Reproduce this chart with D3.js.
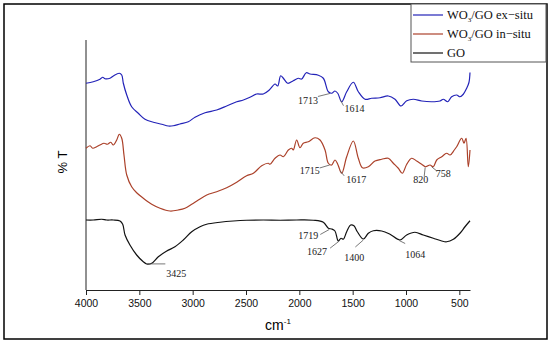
<!DOCTYPE html>
<html>
<head>
<meta charset="utf-8">
<script src="https://cdn.jsdelivr.net/npm/d3@7"></script>
<style>
  body { margin: 0; background: #fff; }
</style>
</head>
<body>
<svg width="550" height="343" id="mainsvg"></svg>
<script>
// FTIR spectra: wavenumber (cm-1) and relative %T (offset, no scale shown)
const WN_EX = [4000,3932,3869,3843,3822,3775,3744,3688,3665,3650,3618,3572,3510,3447,3369,3290,3228,3182,3119,3041,2978,2884,2775,2681,2587,2525,2463,2400,2338,2282,2228,2203,2175,2150,2109,2057,2010,1978,1935,1900,1822,1775,1728,1697,1666,1640,1603,1556,1494,1447,1384,1322,1244,1166,1103,1047,993,932,853,759,681,650,609,572,525,494,463,431,410,400];
const T_EX  = [82.7,83.3,84.3,85.1,84.5,84.7,85.6,86.7,86,82.7,78,73.3,70.7,68.3,67.1,66.3,65.6,65.7,66.4,67.3,69.1,70.9,72,73.6,75.3,76,77.1,78.4,78.4,80,82.4,81.6,85.7,84.7,82.7,83.7,84.7,84.4,86.9,86.4,85.9,84.7,79.3,78.7,79.6,78.7,75.3,79.3,83.1,79.3,76.3,76.7,76.9,77.6,76.3,73.6,75.7,76.3,75.6,75.3,75.6,76.3,75.3,77.3,78,77.3,78.3,80.7,83,87];

const WN_IN = [4000,3962,3937,3900,3869,3831,3800,3768,3744,3712,3688,3665,3644,3618,3572,3525,3463,3384,3306,3212,3135,3072,3009,2947,2868,2775,2681,2587,2494,2431,2353,2291,2275,2228,2181,2150,2103,2072,2057,2025,1994,1963,1916,1853,1806,1759,1728,1697,1666,1640,1603,1556,1494,1447,1409,1353,1291,1228,1166,1119,1072,1035,993,947,900,853,815,775,744,712,665,619,587,547,525,478,456,437,416,400];
const T_IN  = [56.7,57.7,56.7,57.3,58,58.7,58.3,59.1,58,60,62.3,60.7,54,46,41.3,38.9,36.7,34.3,32.7,31.6,32,32.7,34.3,36,38,39.3,40.9,43.1,45.7,46.7,49.7,50.7,50.3,52.7,54,53.3,56,56.7,56,60,56.9,58.7,59.3,60.9,60,56,50.7,50,52,50.3,46.7,53.3,59.6,52.7,48.9,49.3,51.6,52.3,52.7,50.7,48.7,46.7,50.3,52.7,51.6,50.3,49.3,50,49.3,52,53.3,54.7,54,56,57.3,60.7,58.7,60.7,49.3,56];

const WN_GO = [4000,3932,3853,3806,3744,3681,3656,3634,3588,3525,3463,3431,3384,3322,3243,3166,3088,3009,2931,2869,2744,2619,2494,2338,2181,2025,1869,1775,1728,1697,1666,1635,1609,1588,1556,1519,1488,1456,1400,1353,1306,1228,1150,1056,994,916,838,744,665,619,556,494,447,400];
const T_GO  = [28,28,28.3,28,28,27.6,26.3,22,18,14,11.3,10.4,10.7,13.3,15.6,17.3,20,23.3,25.3,26.3,27.1,27.6,27.9,28,27.9,28,27.9,27.1,24.7,24.4,23.6,19.6,20.7,20.3,23.3,26,25.7,23.3,20.4,22.7,23.7,23.6,22.3,20,22,23.1,22,20.7,19.6,19.3,20.3,22.7,25.3,27.7];

const SERIES_NAMES = ['ex-situ', 'in-situ', 'GO'];
const X_TICKS = [4000, 3500, 3000, 2500, 2000, 1500, 1000, 500];

// peak labels: text, wavenumber, series index
const PEAK_TEXT = ['1713','1614','1715','1617','820','758','1719','1627','1400','1064','3425'];
const PEAK_WN   = [1713, 1614, 1715, 1617, 820, 758, 1719, 1627, 1400, 1064, 3425];
const PEAK_SER  = [0, 0, 1, 1, 1, 1, 2, 2, 2, 2, 2];

// layout of leader lines / label text relative to the peak point
const LABEL_LAYOUT = [
  {l: [-12, 4], t: [-12, 11.5], a: 'end'},
  {l: [3, 6.5], t: [4, 13], a: 'start'},
  {l: [-10, 4], t: [-10, 10], a: 'end'},
  {l: [4, 6], t: [6, 13.5], a: 'start'},
  {l: [-1, 10], t: [-4.5, 17], a: 'middle'},
  {l: [5, 5], t: [4, 11], a: 'start'},
  {l: [-9, 6], t: [-11, 11], a: 'end'},
  {l: [-9, 8], t: [-12, 15], a: 'end'},
  {l: [-8, 8], t: [-9, 22], a: 'middle'},
  {l: [6, 4], t: [6, 18], a: 'start'},
  {l: [18, 0], t: [19, 13], a: 'start'}
];

const svg = d3.select('svg');
const colors = ['#2323b8', '#ab412a', '#111111'];
const data = [[WN_EX, T_EX], [WN_IN, T_IN], [WN_GO, T_GO]]
  .map(([w, t]) => w.map((d, i) => ({wn: d, t: t[i]})));

const margin = {top: 40, left: 86, right: 80, bottom: 53};
const width = 550, height = 343;

const xScale = d3.scaleLinear().domain([4000, 400]).range([margin.left, width - margin.right]);
const yScale = d3.scaleLinear().domain([0, 100]).range([height - margin.bottom, margin.top]);

// outer frame
svg.append('rect').attr('x', 4).attr('y', 4).attr('width', 543).attr('height', 335)
  .attr('fill', 'none').attr('stroke', '#000').attr('stroke-width', 1.5);

// axes
const xAxis = d3.axisBottom(xScale).tickValues(X_TICKS).tickSize(5).tickSizeOuter(0).tickFormat(d3.format('d'));
const gx = svg.append('g').attr('transform', `translate(0, ${yScale(0)})`).call(xAxis);
gx.selectAll('text').attr('font-family', 'Liberation Sans, Arial, sans-serif').attr('font-size', 10.5).attr('fill', '#111').attr('dy', '0.9em');
gx.selectAll('line, path').attr('stroke', '#222');
svg.append('line').attr('x1', xScale(4000)).attr('x2', xScale(4000))
  .attr('y1', yScale(100)).attr('y2', yScale(0)).attr('stroke', '#222');

svg.append('text').attr('x', (xScale(4000) + xScale(400)) / 2).attr('y', 330)
  .attr('text-anchor', 'middle').attr('font-family', 'Liberation Sans, Arial, sans-serif')
  .attr('font-size', 14).text('cm')
  .append('tspan').attr('font-size', 8).attr('dy', -6).text('-1');

svg.append('text').attr('transform', 'translate(67, 162) rotate(-90)')
  .attr('text-anchor', 'middle').attr('font-family', 'Liberation Sans, Arial, sans-serif')
  .attr('font-size', 13).text('% T');

// spectra
const line = d3.line().x(d => xScale(d.wn)).y(d => yScale(d.t)).curve(d3.curveCatmullRom.alpha(0.5));
svg.selectAll('.spec').data(data).join('path')
  .attr('class', 'spec').attr('d', line)
  .attr('fill', 'none').attr('stroke', (d, i) => colors[i]).attr('stroke-width', 1.2);

// peak labels
function valueAt(series, wn) {
  for (let i = 0; i < series.length - 1; i++) {
    const a = series[i], b = series[i + 1];
    if (wn <= a.wn && wn >= b.wn) return a.t + (b.t - a.t) * (a.wn - wn) / (a.wn - b.wn);
  }
  return series[series.length - 1].t;
}
const gl = svg.append('g');
PEAK_TEXT.forEach((txt, i) => {
  const px = xScale(PEAK_WN[i]);
  const py = yScale(valueAt(data[PEAK_SER[i]], PEAK_WN[i]));
  const lay = LABEL_LAYOUT[i];
  gl.append('line').attr('x1', px).attr('y1', py + (i === 10 ? 0 : 1))
    .attr('x2', px + lay.l[0]).attr('y2', py + lay.l[1])
    .attr('stroke', '#555').attr('stroke-width', 0.8);
  gl.append('text').attr('x', px + lay.t[0]).attr('y', py + lay.t[1])
    .attr('text-anchor', lay.a).attr('font-family', 'Liberation Serif, Times New Roman, serif')
    .attr('font-size', 10).attr('fill', '#222').text(txt);
});

// legend
const lg = svg.append('g');
lg.append('rect').attr('x', 411).attr('y', 4).attr('width', 135).attr('height', 58)
  .attr('fill', '#fff').attr('stroke', '#555').attr('stroke-width', 1);
const legendY = [15, 34, 53];
SERIES_NAMES.forEach((name, i) => {
  lg.append('line').attr('x1', 413).attr('x2', 443).attr('y1', legendY[i]).attr('y2', legendY[i])
    .attr('stroke', colors[i]).attr('stroke-width', 1.2);
  const t = lg.append('text').attr('x', 447).attr('y', legendY[i] + 4)
    .attr('font-family', 'Liberation Serif, Times New Roman, serif').attr('font-size', 12.5).attr('fill', '#111');
  if (i < 2) {
    t.append('tspan').text('WO');
    t.append('tspan').attr('font-size', 7).attr('dy', 3).text('3');
    t.append('tspan').attr('dy', -3).text('/GO ' + name.replace('-', '\u2212'));
  } else {
    t.text(name);
  }
});
</script>
</body>
</html>
